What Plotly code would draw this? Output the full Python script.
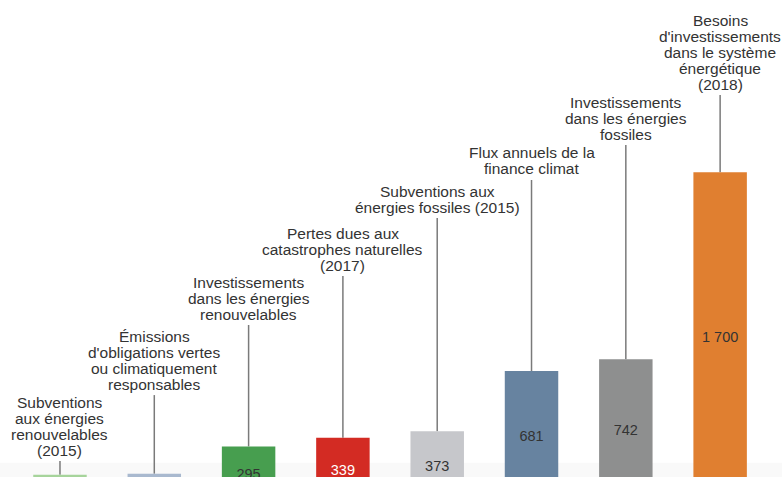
import plotly.graph_objects as go

# =====================================================
# DATA
# =====================================================

labels = [
    ["Subventions", "aux énergies", "renouvelables", "(2015)"],
    ["Émissions", "d'obligations vertes", "ou climatiquement", "responsables"],
    ["Investissements", "dans les énergies", "renouvelables"],
    ["Pertes dues aux", "catastrophes naturelles", "(2017)"],
    ["Subventions aux", "énergies fossiles (2015)"],
    ["Flux annuels de la", "finance climat"],
    ["Investissements", "dans les énergies", "fossiles"],
    ["Besoins", "d'investissements", "dans le système", "énergétique", "(2018)"],
]

values = [150, 155, 295, 339, 373, 681, 742, 1700]
value_text = ["150", "155", "295", "339", "373", "681", "742", "1 700"]

# height (same units as the bars) where each leader line stops
leader_top = [220, 558, 917, 1168, 1465, 1660, 1839, 2095]

bar_colors = [
    "#a6d49b", "#a9b9cf", "#479e4f", "#d32b23",
    "#c6c7cb", "#6783a0", "#8e8f8f", "#e07f30",
]
value_colors = ["#333333"] * 3 + ["#ffffff"] + ["#333333"] * 4

x = list(range(len(values)))

# =====================================================
# FIGURE
# =====================================================

fig = go.Figure()

fig.add_trace(
    go.Bar(
        x=x,
        y=values,
        width=0.567,
        marker=dict(color=bar_colors, line=dict(width=0)),
        hoverinfo="skip",
    )
)

fig.add_trace(
    go.Scatter(
        x=x,
        y=[v / 2 for v in values],
        mode="text",
        text=value_text,
        textfont=dict(family="Liberation Sans", size=14.5, color=value_colors),
        hoverinfo="skip",
    )
)

# leader lines from bar top up to the label
for i, (v, top) in enumerate(zip(values, leader_top)):
    fig.add_shape(
        type="line",
        xref="x", yref="y",
        x0=i, x1=i, y0=v, y1=top,
        line=dict(color="#7a7a7a", width=1.5),
        layer="below",
    )

# labels, one annotation per line so the line spacing stays tight
for i, (lines, top) in enumerate(zip(labels, leader_top)):
    n = len(lines)
    for k, line in enumerate(lines):
        fig.add_annotation(
            x=i,
            y=top,
            xref="x", yref="y",
            text=line,
            showarrow=False,
            xanchor="center",
            yanchor="middle",
            yshift=11 + 16 * (n - 1 - k),
            font=dict(family="Liberation Sans", size=15.5, color="#333333"),
        )

# faint grey band at the bottom edge
fig.add_shape(
    type="rect",
    xref="paper", yref="paper",
    x0=0, x1=1, y0=0, y1=0.03,
    fillcolor="#f9f9f9",
    line=dict(width=0),
    layer="below",
)

fig.update_layout(
    width=782,
    height=477,
    margin=dict(l=0, r=0, t=0, b=0),
    paper_bgcolor="white",
    plot_bgcolor="white",
    showlegend=False,
    xaxis=dict(range=[-0.636, 7.656], visible=False, fixedrange=True),
    yaxis=dict(range=[138.3, 2582], visible=False, fixedrange=True),
)

# the page body has an 8px margin by default; drop it so the chart fills the window
fig.write_html(
    "out.html",
    config={"displayModeBar": False},
    post_script="document.body.style.margin='0px';",
)
